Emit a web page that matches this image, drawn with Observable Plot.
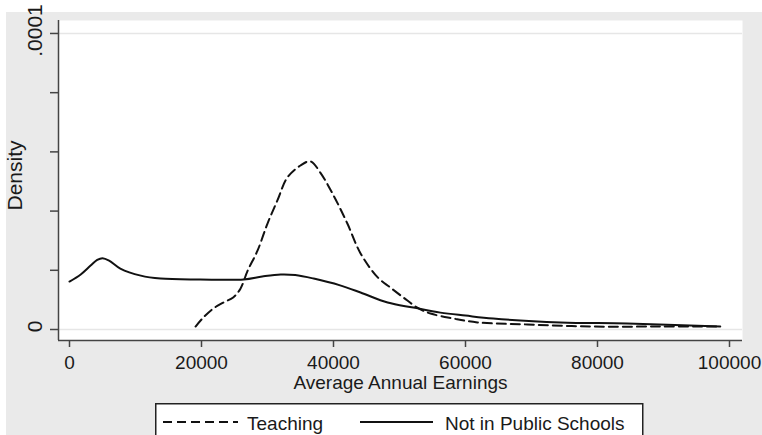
<!DOCTYPE html>
<html><head><meta charset="utf-8">
<script src="https://cdn.jsdelivr.net/npm/d3@7"></script>
<script src="https://cdn.jsdelivr.net/npm/@observablehq/plot@0.6"></script>
<style>
html,body{margin:0;padding:0;background:#fff;width:762px;height:435px;overflow:hidden;font-family:"Liberation Sans",Arial,sans-serif;}
#bg{position:absolute;left:6px;top:12px;width:756px;height:423px;background:#eaeaea;}
#chart{position:absolute;left:0;top:0;}
#legend{position:absolute;left:149px;top:391px;overflow:visible;}
</style>
</head><body>
<div id="bg"><div id="chart"></div><svg id="legend" width="490" height="50"></svg></div>
<script>
// Teaching (dashed)
const teachX = [19100, 20300, 21800, 23300, 24800, 25900, 27000, 28500, 30000, 31500, 33000, 35000, 36500, 38000, 40000, 42100, 44100, 46700, 48600, 50600, 52700, 54700, 58200, 61800, 69400, 79400, 89500, 98600];
const teachY = [0.0000010, 0.0000041, 0.0000071, 0.0000091, 0.0000108, 0.0000138, 0.0000199, 0.0000267, 0.0000358, 0.0000436, 0.0000513, 0.0000554, 0.0000568, 0.0000530, 0.0000453, 0.0000358, 0.0000257, 0.0000176, 0.0000142, 0.0000108, 0.0000074, 0.0000054, 0.0000037, 0.0000024, 0.0000017, 0.0000010, 0.0000010, 0.0000010];
// Not in Public Schools (solid)
const npsX = [0, 1700, 3200, 4200, 5000, 6000, 7700, 10800, 13800, 19800, 26400, 29200, 32000, 34200, 37000, 41000, 44100, 48200, 52100, 56200, 60000, 64200, 74400, 84500, 98600];
const npsY = [0.0000162, 0.0000186, 0.0000216, 0.0000235, 0.0000241, 0.0000233, 0.0000206, 0.0000182, 0.0000172, 0.0000169, 0.0000169, 0.0000179, 0.0000186, 0.0000184, 0.0000172, 0.0000149, 0.0000125, 0.0000091, 0.0000074, 0.0000057, 0.0000047, 0.0000037, 0.0000024, 0.0000020, 0.0000010];

const seriesNames = ["Teaching", "Not in Public Schools"];
const xTicks = [0, 20000, 40000, 60000, 80000, 100000];
const yTicks = [0, 0.00002, 0.00004, 0.00006, 0.00008, 0.0001];
const yLabelTicks = [0, 0.0001];
const yLabelText = ["0", ".0001"];
const xTitle = "Average Annual Earnings";
const yTitle = "Density";

const teaching = teachX.map((x, i) => ({x, y: teachY[i]}));
const nps = npsX.map((x, i) => ({x, y: npsY[i]}));

const xDom = [-1667, 101970];
const yDom = [-0.000003716, 0.00010438];
const ink = "#1a1a1a";

const chart = Plot.plot({
  width: 756, height: 392,
  marginLeft: 52, marginRight: 20, marginTop: 8, marginBottom: 64,
  style: {background: "transparent", overflow: "visible", fontFamily: "'Liberation Sans', Arial, sans-serif", fontSize: "19px", color: ink},
  x: {domain: xDom},
  y: {domain: yDom},
  marks: [
    Plot.frame({fill: "white", stroke: null}),
    Plot.ruleY(yLabelTicks, {stroke: "#e6e6e6", strokeWidth: 1.5}),
    Plot.line(nps, {x: "x", y: "y", stroke: "#111", strokeWidth: 2, curve: "catmull-rom"}),
    Plot.line(teaching, {x: "x", y: "y", stroke: "#111", strokeWidth: 2, strokeDasharray: "9,5", curve: "catmull-rom"}),
    Plot.ruleX([xDom[0]], {stroke: "#444", strokeWidth: 1.5}),
    Plot.ruleY([yDom[0]], {stroke: "#444", strokeWidth: 1.5}),
    Plot.axisX(xTicks, {tickSize: 7, tickPadding: 8, tickFormat: d => String(d), label: null, stroke: "#444", strokeWidth: 1.5, fontSize: 19}),
    Plot.axisY(yTicks, {tickSize: 8, tickFormat: () => "", label: null, stroke: "#444", strokeWidth: 1.5}),
    Plot.text(yLabelTicks, {y: d => d, text: (d, i) => yLabelText[i], frameAnchor: "left", dx: -23, dy: -3, rotate: -90, textAnchor: "middle", lineAnchor: "middle", fontSize: 21, fill: ink}),
    Plot.text([yTitle], {text: d => d, frameAnchor: "left", dx: -43, dy: -5, rotate: -90, textAnchor: "middle", lineAnchor: "middle", fontSize: 21, fill: ink}),
    Plot.text([xTitle], {text: d => d, frameAnchor: "bottom", dy: 35, lineAnchor: "top", fontSize: 19, fill: ink})
  ]
});
document.getElementById("chart").appendChild(chart);

// legend
const lg = d3.select("#legend");
lg.append("rect").attr("x", 0.75).attr("y", 0.75).attr("width", 487).attr("height", 60)
  .attr("fill", "white").attr("stroke", "#222").attr("stroke-width", 1.5);
const items = [
  {name: seriesNames[0], x1: 8, x2: 83, tx: 92, dash: "9,5"},
  {name: seriesNames[1], x1: 205, x2: 278, tx: 290, dash: null}
];
for (const it of items) {
  lg.append("line").attr("x1", it.x1).attr("x2", it.x2).attr("y1", 19).attr("y2", 19)
    .attr("stroke", "#111").attr("stroke-width", 2).attr("stroke-dasharray", it.dash);
  lg.append("text").attr("x", it.tx).attr("y", 27).attr("fill", ink)
    .style("font-family", "'Liberation Sans', Arial, sans-serif").style("font-size", "19px").text(it.name);
}
</script>
</body></html>
